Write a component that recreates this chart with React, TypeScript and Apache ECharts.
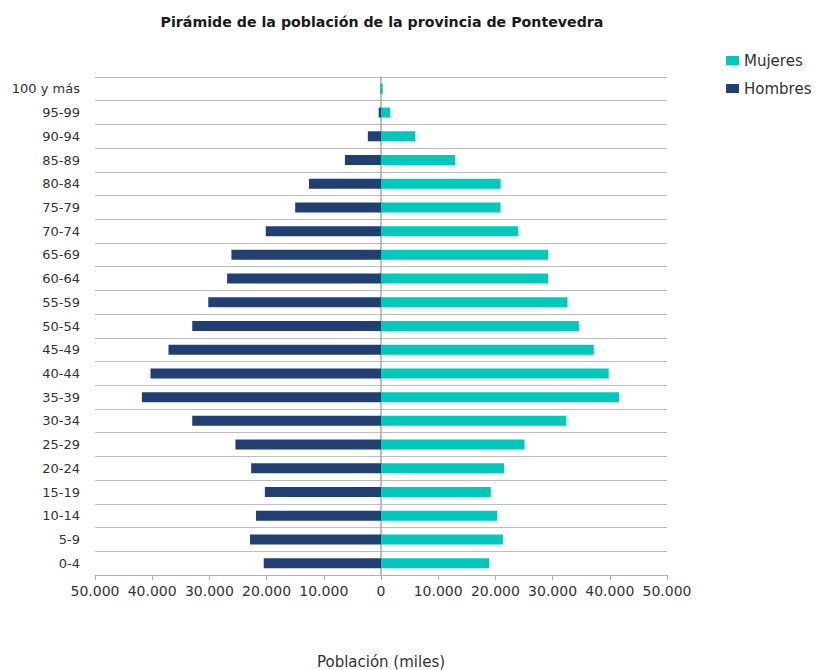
import React, { useEffect, useRef } from "react";
import * as echarts from "echarts";

const categories = [
  "0-4", "5-9", "10-14", "15-19", "20-24", "25-29", "30-34", "35-39", "40-44", "45-49",
  "50-54", "55-59", "60-64", "65-69", "70-74", "75-79", "80-84", "85-89", "90-94", "95-99", "100 y más",
];

const hombres = [
  20500, 22900, 21850, 20300, 22700, 25450, 33000, 41800, 40300, 37150,
  33000, 30200, 26900, 26150, 20150, 15000, 12600, 6300, 2300, 400, 60,
];

const mujeres = [
  18900, 21300, 20300, 19200, 21500, 25100, 32400, 41600, 39800, 37200,
  34600, 32600, 29200, 29200, 24000, 20900, 20900, 12950, 6000, 1600, 300,
];

const xTicks = { min: -50000, max: 50000, interval: 10000 };

const fmt = (v: number) => {
  const a = Math.abs(v);
  return a.toString().replace(/\B(?=(\d{3})+(?!\d))/g, ".");
};

export default function App() {
  const ref = useRef<HTMLDivElement>(null);
  useEffect(() => {
    document.body.style.margin = "0";
    document.body.style.overflow = "hidden";
    if (!ref.current) return;
    const chart = echarts.init(ref.current, null, { renderer: "svg" });
    const font = "'DejaVu Sans', 'Open Sans', sans-serif";
    chart.setOption({
      animation: false,
      textStyle: { fontFamily: font },
      title: {
        text: "Pirámide de la población de la provincia de Pontevedra",
        left: 377,
        textAlign: "center",
        top: 10,
        textStyle: { fontSize: 14.2, fontWeight: "bold", color: "#1a1a1a", fontFamily: font },
      },
      legend: {
        orient: "vertical",
        left: 721,
        top: 48,
        itemWidth: 13,
        itemHeight: 9,
        itemGap: 13,
        icon: "rect",
        data: ["Mujeres", "Hombres"],
        textStyle: { fontSize: 15, color: "#333", fontFamily: font },
      },
      grid: { left: 95, right: 150, top: 77, bottom: 95, containLabel: false, outerBoundsMode: "none" },
      xAxis: {
        type: "value",
        min: xTicks.min,
        max: xTicks.max,
        interval: xTicks.interval,
        name: "Población (miles)",
        nameLocation: "middle",
        nameGap: 79,
        nameTextStyle: { fontSize: 15, color: "#333", fontFamily: font },
        axisLine: { show: true, lineStyle: { color: "#b0b0b0", width: 1 } },
        axisTick: { show: true, length: 5, lineStyle: { color: "#b0b0b0" } },
        splitLine: { show: false },
        axisLabel: { formatter: fmt, fontSize: 14, color: "#333", margin: 9, fontFamily: font },
      },
      yAxis: {
        type: "category",
        data: categories,
        axisLine: { show: true, onZero: true, lineStyle: { color: "#a8a8a8", width: 1.5 } },
        axisTick: { show: false },
        splitLine: { show: true, lineStyle: { color: "#bdbdbd", width: 1 } },
        axisLabel: { fontSize: 13, color: "#333", margin: 15, fontFamily: font },
      },
      series: [
        {
          name: "Hombres",
          type: "bar",
          stack: "pop",
          barWidth: 10,
          itemStyle: { color: "#223f73" },
          data: hombres.map((v) => -v),
        },
        {
          name: "Mujeres",
          type: "bar",
          stack: "pop",
          barWidth: 10,
          itemStyle: { color: "#00c8bb" },
          data: mujeres,
        },
      ],
    });
    return () => chart.dispose();
  }, []);
  return <div ref={ref} style={{ width: 817, height: 670 }} />;
}
